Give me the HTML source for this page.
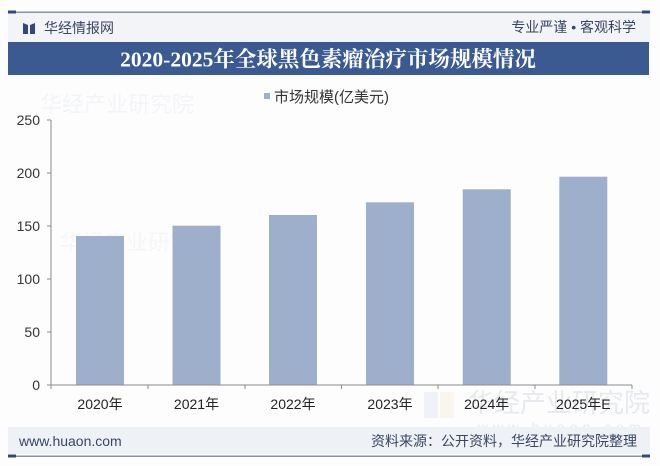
<!DOCTYPE html>
<html>
<head>
<meta charset="utf-8">
<style>
  html,body{margin:0;padding:0;background:#fff;}
  body{width:660px;height:466px;overflow:hidden;position:relative;}
  svg{position:absolute;left:0;top:0;}
  text{font-family:"Liberation Sans","Noto Sans CJK SC",sans-serif;}
</style>
</head>
<body>
<svg width="660" height="466" viewBox="0 0 660 466" xmlns="http://www.w3.org/2000/svg">
  <rect x="0" y="0" width="660" height="466" fill="#fdfdfe"/>
  <!-- header band -->
  <rect x="8" y="13" width="642" height="29" fill="#f2f4f8"/>
  <!-- top line -->
  <rect x="8" y="11.5" width="642" height="1.5" fill="#8891a3"/>
  <rect x="8" y="10.5" width="8" height="3" fill="#2f4a7a"/>
  <rect x="642" y="10.5" width="8" height="3" fill="#2f4a7a"/>
  <!-- logo -->
  <path d="M23 23 L28 25 L28 34 L23 34 Z" fill="#2f4a7a"/>
  <path d="M35 23 L30 25 L30 34 L35 34 Z" fill="#2f4a7a"/>
  <text x="44" y="33" font-size="14" fill="#3a4560">华经情报网</text>
  <text x="636" y="32" font-size="14" fill="#3a4560" text-anchor="end">专业严谨 • 客观科学</text>
  <!-- title bar -->
  <rect x="8" y="42" width="641" height="33" fill="#3c5a92"/>
  <text x="328" y="66.5" font-size="21.5" font-weight="bold" fill="#ffffff" text-anchor="middle" style="font-family:'Liberation Serif','Noto Serif CJK SC',serif;">2020-2025年全球黑色素瘤治疗市场规模情况</text>

  <!-- watermarks -->
  <g opacity="0.4">
    <text x="40" y="112" font-size="22" fill="#e6e9ef">华经产业研究院</text>
    <text x="60" y="250" font-size="22" fill="#eceef2">华经产业研究院</text>
    <rect x="424" y="392" width="14" height="26" fill="#dbe4f2"/>
    <rect x="440" y="392" width="14" height="26" fill="#f6ecd6"/>
  </g>
  <text x="468" y="412" font-size="26" fill="#e6e9ee">华经产业研究院</text>
  <text x="478" y="432" font-size="14" fill="#e6e9ee" letter-spacing="5">www.huaon.com</text>

  <!-- legend -->
  <rect x="264" y="93" width="6" height="6" fill="#9dafcb"/>
  <text x="274" y="102" font-size="15" fill="#333">市场规模(亿美元)</text>

  <!-- y axis labels -->
  <g font-size="14" fill="#333" text-anchor="end">
    <text x="40" y="125">250</text>
    <text x="40" y="178">200</text>
    <text x="40" y="231">150</text>
    <text x="40" y="284">100</text>
    <text x="40" y="337">50</text>
    <text x="40" y="390">0</text>
  </g>

  <!-- bars -->
  <g fill="#9dafcb">
    <rect x="76" y="236" width="48" height="149"/>
    <rect x="172.5" y="225.7" width="48" height="159.3"/>
    <rect x="269" y="215" width="48" height="170"/>
    <rect x="366" y="202.3" width="48" height="182.7"/>
    <rect x="462.7" y="189.3" width="48" height="195.7"/>
    <rect x="559.3" y="176.7" width="48" height="208.3"/>
  </g>

  <!-- axes -->
  <g stroke="#8c8c8c" stroke-width="1">
    <line x1="51" y1="120" x2="51" y2="385"/>
    <line x1="47" y1="120" x2="51" y2="120"/>
    <line x1="47" y1="173" x2="51" y2="173"/>
    <line x1="47" y1="226" x2="51" y2="226"/>
    <line x1="47" y1="279" x2="51" y2="279"/>
    <line x1="47" y1="332" x2="51" y2="332"/>
    <line x1="47" y1="385" x2="51" y2="385"/>
    <line x1="51" y1="385" x2="632" y2="385"/>
    <line x1="51" y1="385" x2="51" y2="389"/>
    <line x1="148" y1="385" x2="148" y2="389"/>
    <line x1="245" y1="385" x2="245" y2="389"/>
    <line x1="341.5" y1="385" x2="341.5" y2="389"/>
    <line x1="438" y1="385" x2="438" y2="389"/>
    <line x1="535" y1="385" x2="535" y2="389"/>
    <line x1="632" y1="385" x2="632" y2="389"/>
  </g>

  <!-- x labels -->
  <g font-size="14" fill="#222" text-anchor="middle">
    <text x="100" y="409">2020年</text>
    <text x="196.5" y="409">2021年</text>
    <text x="293" y="409">2022年</text>
    <text x="390" y="409">2023年</text>
    <text x="486.7" y="409">2024年</text>
    <text x="583.3" y="409">2025年E</text>
  </g>

  <!-- footer -->
  <rect x="8" y="427" width="642" height="27" fill="#eef1f6"/>
  <rect x="8" y="455.5" width="642" height="1.5" fill="#8891a3"/>
  <rect x="8" y="454.5" width="8" height="3" fill="#2f4a7a"/>
  <rect x="642" y="454.5" width="8" height="3" fill="#2f4a7a"/>
  <text x="19" y="446" font-size="14" fill="#3a4560">www.huaon.com</text>
  <text x="637" y="446" font-size="14" fill="#3a4560" text-anchor="end">资料来源：公开资料，华经产业研究院整理</text>
</svg>
</body>
</html>
